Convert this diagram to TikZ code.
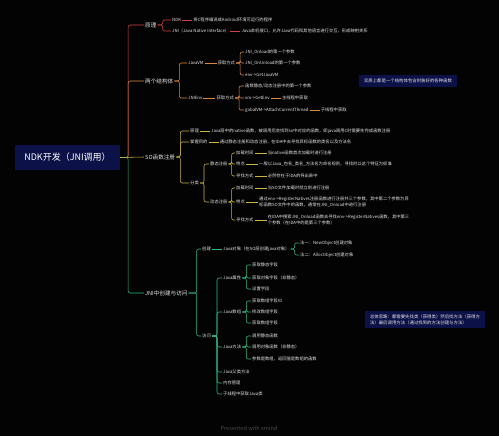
\documentclass[tikz,border=0pt]{standalone}
\usepackage{fontspec}
\setmainfont{Noto Sans CJK SC}
\usetikzlibrary{positioning}

\definecolor{bgblack}{HTML}{030303}
\definecolor{rootblue}{HTML}{0C1148}
\definecolor{brred}{HTML}{D2423C}
\definecolor{brorange}{HTML}{DE8A3C}
\definecolor{brolive}{HTML}{C9B43A}
\definecolor{brgreen}{HTML}{2DBA8C}
\definecolor{txt}{HTML}{E4E4E4}
\definecolor{mark}{HTML}{4A4A4A}

\tikzset{
  root/.style={fill=rootblue, text=white, minimum width=105pt, minimum height=25pt,
    font=\fontsize{9}{10}\selectfont},
  topic/.style={anchor=west, inner sep=1pt, text=txt, font=\fontsize{5.6}{6.6}\selectfont},
  leaf/.style={anchor=west, inner sep=1pt, text=txt, align=left,
    font=\fontsize{4.3}{6.2}\selectfont},
  remark/.style={fill=rootblue, text=txt, inner xsep=5pt, inner ysep=3.5pt, align=left,
    font=\fontsize{4.4}{6.2}\selectfont},
  fork/.style={to path={-- ++(#1,0) |- (\tikztotarget)}},
  fork/.default=4,
  red br/.style={draw=brred, line width=0.55pt, rounded corners=2pt},
  orange br/.style={draw=brorange, line width=0.55pt, rounded corners=2pt},
  olive br/.style={draw=brolive, line width=0.55pt, rounded corners=2pt},
  green br/.style={draw=brgreen, line width=0.55pt, rounded corners=2pt}
}

\begin{document}
\begin{tikzpicture}[x=1pt, y=-1pt, node distance=10pt]
  \fill[bgblack] (0,0) rectangle (499,436);
  \useasboundingbox (0,0) rectangle (499,436);

  \node[root] (root) at (67.5,157.5) {NDK开发（JNI调用）};

  \node[topic] (yl) at (144,25) {原理};
  \node[topic] (jgt) at (144,81) {两个结构体};
  \node[topic] (so) at (144,157) {SO函数注册};
  \node[topic] (jni) at (144,293) {JNI中创建与访问};

  \node[leaf] (ndk) at (171,20) {NDK};
  \node[leaf, right=of ndk] (ndkd) {将C程序编译成Android环境可运行的程序};
  \node[leaf] (jnid) at (171,31) {JNI（Java Native Interface）};
  \node[leaf, right=of jnid] (jnidd) {Java本机接口，允许Java代码和其他语言进行交互，形成映射关系};

  \node[leaf] (jvm) at (187,63) {JavaVM};
  \node[leaf, right=12pt of jvm] (jvmget) {获取方式};
  \node[leaf] (onload) at (244,52) {JNI\_Onload的第一个参数};
  \node[leaf] (onunload) at (244,63) {JNI\_OnUnload的第一个参数};
  \node[leaf] (getjvm) at (244,75) {env->GetJavaVM};
  \node[leaf] (jenv) at (187,98) {JNIEnv};
  \node[leaf, right=12pt of jenv] (jenvget) {获取方式};
  \node[leaf] (regarg) at (244,86) {函数静态/动态注册中的第一个参数};
  \node[leaf] (getenv) at (244,98) {vm->GetEnv};
  \node[leaf, right=of getenv] (getenvd) {主线程中获取};
  \node[leaf] (attach) at (244,110) {gobalVM->AttachCurrentThread};
  \node[leaf, right=of attach] (attachd) {子线程中获取};
  \node[remark] (note1) at (408,81) {实质上都是一个结构体包含封装好的各种函数};

  \node[leaf] (soyl) at (189,131) {原理};
  \node[leaf, right=of soyl] (soyld) {Java层中的native函数，被调用后会找到so中对应的函数，即java调用C时需要先完成函数注册};
  \node[leaf] (somd) at (189,142) {掌握目的};
  \node[leaf, right=of somd] (somdd) {通过静态注册和动态注册，在IDA中去寻找目标函数的类名以及方法名};
  \node[leaf] (sofl) at (189,183) {分类};
  \node[leaf] (jt) at (209,164) {静态注册};
  \node[leaf] (jzsj1) at (235,153) {加载时间};
  \node[leaf, right=12pt of jzsj1] (jzsj1d) {当native函数首次加载时进行注册};
  \node[leaf] (td1) at (235,164) {特点};
  \node[leaf, right=12pt of td1] (td1d) {一般以Java\_包名\_类名\_方法名为命名规则，寻找时以这个特征为标准};
  \node[leaf] (xzfs1) at (235,176) {寻找方式};
  \node[leaf, right=12pt of xzfs1] (xzfs1d) {必然存在于IDA的导出表中};
  \node[leaf] (dt) at (209,202) {动态注册};
  \node[leaf] (jzsj2) at (235,188) {加载时间};
  \node[leaf, right=12pt of jzsj2] (jzsj2d) {当SO文件加载时就立刻进行注册};
  \node[leaf] (td2) at (235,202) {特点};
  \node[leaf, right=12pt of td2] (td2d) {通过env->RegisterNatives注册函数进行注册共三个参数，其中第二个参数为目\\标函数SO文件中的函数，通常在JNI\_Onload中进行注册};
  \node[leaf] (xzfs2) at (235,220) {寻找方式};
  \node[leaf, right=12pt of xzfs2] (xzfs2d) {在IDA中搜索JNI\_Onload函数去寻找env->RegisterNatives函数，其中第三\\个参数（在IDA中的是第三个参数）};

  \node[leaf] (cj) at (201,249) {创建};
  \node[leaf, right=of cj] (jobj) {Java对象（在SO层创建java对象）};
  \node[leaf] (fa1) at (299,243) {法一：NewObject创建对象};
  \node[leaf] (fa2) at (299,255) {法二：AllocObject创建对象};
  \node[leaf] (fw) at (201,336) {访问};
  \node[leaf] (jsx) at (222,278) {Java属性};
  \node[leaf] (sx1) at (251,265) {获取静态字段};
  \node[leaf] (sx2) at (251,278) {获取对象字段（非静态）};
  \node[leaf] (sx3) at (251,289) {设置字段};
  \node[leaf] (jsz) at (222,312) {Java数组};
  \node[leaf] (sz1) at (251,301) {获取数组字段ID};
  \node[leaf] (sz2) at (251,312) {修改数组字段};
  \node[leaf] (sz3) at (251,323) {获取数组字段};
  \node[leaf] (jff) at (222,347) {Java方法};
  \node[leaf] (ff1) at (251,336) {调用静态函数};
  \node[leaf] (ff2) at (251,347) {调用对象函数（非静态）};
  \node[leaf] (ff3) at (251,359) {参数是数组，返回值是数组的函数};
  \node[leaf] (jfl) at (222,372) {Java父类方法};
  \node[leaf] (ncgl) at (222,383) {内存管理};
  \node[leaf] (zxc) at (222,394) {子线程中获取Java类};
  \node[remark] (note2) at (425,319.5) {总体思路：都需要先找类（获得类）然后找方法（获得方\\法）最后调用方法（通过找到的方法创建与方法）};

  \node[text=mark, font=\fontsize{5.6}{6.6}\selectfont] (xmind) at (249,428) {Presented with xmind};

  \draw[red br] (root.east) to[fork=8] (yl.west);
  \draw[orange br] (root.east) to[fork=8] (jgt.west);
  \draw[green br] (root.east) to[fork=8] (jni.west);
  \draw[olive br] (root.east) -- (so.west);

  \draw[red br] (yl.east) edge[fork=5] (ndk.west) edge[fork=5] (jnid.west);
  \draw[red br] (ndk) -- (ndkd) (jnid) -- (jnidd);

  \draw[orange br] (jgt.east) edge[fork=5] (jvm.west) edge[fork=5] (jenv.west);
  \draw[orange br] (jvm) -- (jvmget) (jenv) -- (jenvget);
  \draw[orange br] (jvmget.east) edge[fork] (onload.west) edge[fork] (onunload.west)
    edge[fork] (getjvm.west);
  \draw[orange br] (jenvget.east) edge[fork] (regarg.west) edge[fork] (getenv.west)
    edge[fork] (attach.west);
  \draw[orange br] (getenv) -- (getenvd) (attach) -- (attachd);

  \draw[olive br] (so.east) edge[fork] (soyl.west) edge[fork] (somd.west) edge[fork] (sofl.west);
  \draw[olive br] (soyl) -- (soyld) (somd) -- (somdd);
  \draw[olive br] (sofl.east) edge[fork] (jt.west) edge[fork] (dt.west);
  \draw[olive br] (jt.east) edge[fork=3] (jzsj1.west) edge[fork=3] (td1.west)
    edge[fork=3] (xzfs1.west);
  \draw[olive br] (dt.east) edge[fork=3] (jzsj2.west) edge[fork=3] (td2.west)
    edge[fork=3] (xzfs2.west);
  \draw[olive br] (jzsj1) -- (jzsj1d) (td1) -- (td1d) (xzfs1) -- (xzfs1d);
  \draw[olive br] (jzsj2) -- (jzsj2d) (td2) -- (td2d) (xzfs2) -- (xzfs2d);

  \draw[green br] (jni.east) edge[fork=8] (cj.west) edge[fork=8] (fw.west);
  \draw[green br] (cj) -- (jobj);
  \draw[green br] (jobj.east) edge[fork] (fa1.west) edge[fork] (fa2.west);
  \draw[green br] (fw.east) edge[fork=5] (jsx.west) edge[fork=5] (jsz.west)
    edge[fork=5] (jff.west) edge[fork=5] (jfl.west) edge[fork=5] (ncgl.west)
    edge[fork=5] (zxc.west);
  \draw[green br] (jsx.east) edge[fork] (sx1.west) edge[fork] (sx2.west) edge[fork] (sx3.west);
  \draw[green br] (jsz.east) edge[fork] (sz1.west) edge[fork] (sz2.west) edge[fork] (sz3.west);
  \draw[green br] (jff.east) edge[fork] (ff1.west) edge[fork] (ff2.west) edge[fork] (ff3.west);
\end{tikzpicture}
\end{document}
